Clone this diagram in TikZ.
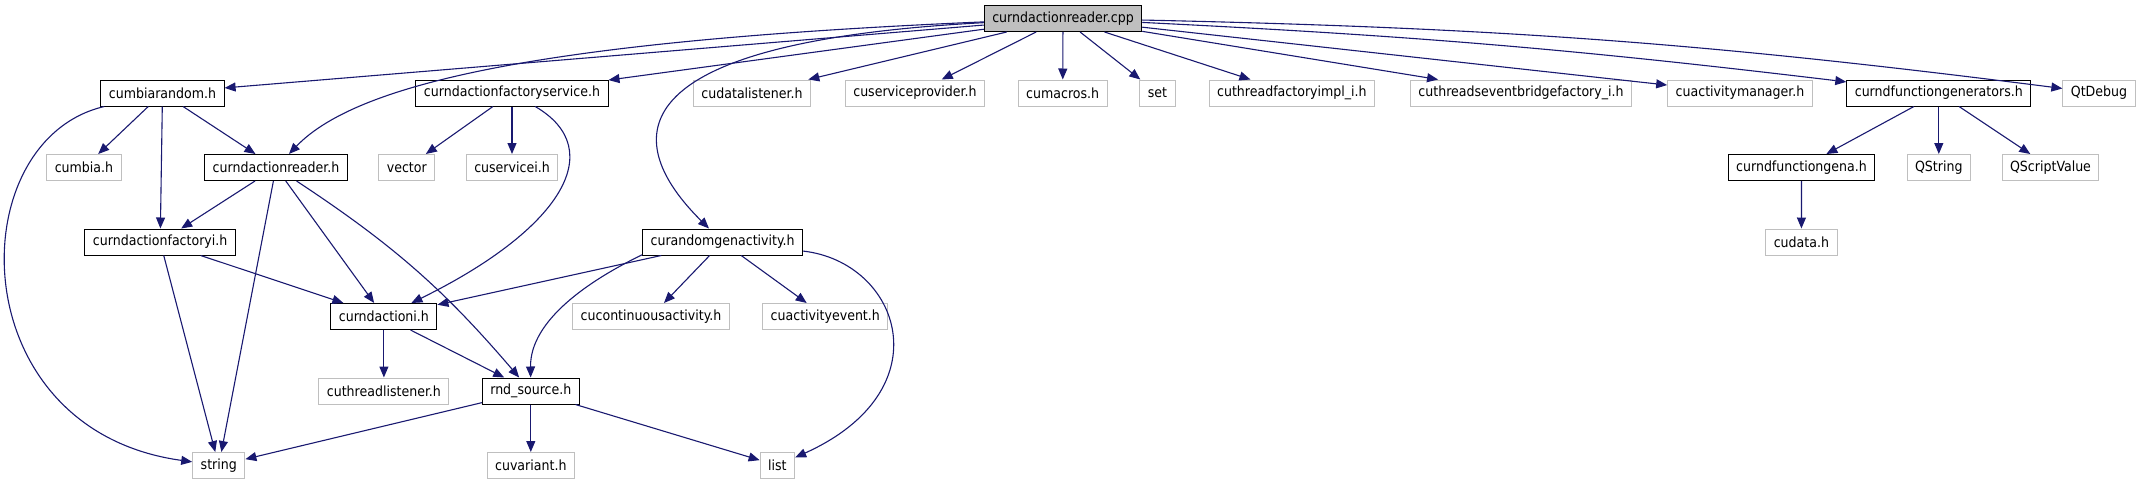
\documentclass[tikz,border=0pt]{standalone}
\usepackage{fontspec}
\setmainfont{DejaVu Sans Condensed}
\usetikzlibrary{arrows.meta}
\definecolor{edgeblue}{HTML}{191970}
\definecolor{boxgray}{HTML}{BFBFBF}

\begin{document}
\begin{tikzpicture}[x=1pt, y=-1pt,
  every node/.style={rectangle, draw, fill=white, line width=1pt, minimum height=26pt,
    inner xsep=8pt, inner ysep=0pt, font=\fontsize{14}{16}\selectfont},
  sys/.style={draw=boxgray},
  root/.style={fill=boxgray},
  dep/.style={-{Triangle[length=11pt, width=9pt]}, draw=edgeblue, line width=1.1pt}]
  \useasboundingbox (0,0) rectangle (2144,485);

  \node[root] (cpp) at (1063,18.5) {curndactionreader.cpp};

  \node (cbr) at (162.5,93) {cumbiarandom.h};
  \node (cfs) at (512,93) {curndactionfactoryservice.h};
  \node[sys] (cdl) at (752,93) {cudatalistener.h};
  \node[sys] (csp) at (914.9,93) {cuserviceprovider.h};
  \node[sys] (cma) at (1062.7,93) {cumacros.h};
  \node[sys] (set) at (1157.4,93) {set};
  \node[sys] (ctf) at (1291.9,93) {cuthreadfactoryimpl\_i.h};
  \node[sys] (ctb) at (1521,93) {cuthreadseventbridgefactory\_i.h};
  \node[sys] (cam) at (1740,93) {cuactivitymanager.h};
  \node (cfg) at (1938.8,93) {curndfunctiongenerators.h};
  \node[sys] (qtd) at (2099,93) {QtDebug};

  \node[sys] (cmb) at (84,167.5) {cumbia.h};
  \node (crh) at (276,167.5) {curndactionreader.h};
  \node[sys] (vec) at (406.8,167.5) {vector};
  \node[sys] (csi) at (512,167.5) {cuservicei.h};
  \node (cfa) at (1801.5,167.5) {curndfunctiongena.h};
  \node[sys] (qst) at (1938.8,167.5) {QString};
  \node[sys] (qsv) at (2050.5,167.5) {QScriptValue};

  \node (cfi) at (160.2,242) {curndactionfactoryi.h};
  \node (crg) at (722.6,242) {curandomgenactivity.h};
  \node[sys] (cdt) at (1801.4,242) {cudata.h};

  \node (cai) at (383.9,316.5) {curndactioni.h};
  \node[sys] (cca) at (651,316.5) {cucontinuousactivity.h};
  \node[sys] (cae) at (825.3,316.5) {cuactivityevent.h};

  \node[sys] (ctl) at (383.9,391) {cuthreadlistener.h};
  \node (rnd) at (530.8,391) {rnd\_source.h};

  \node[sys] (str) at (218.8,465.5) {string};
  \node[sys] (cva) at (530.8,465.5) {cuvariant.h};
  \node[sys] (lst) at (777.4,465.5) {list};

  % top level includes
  \draw[dep] (cpp) -- (cbr);
  \draw[dep] (cpp) .. controls (560,40) and (360,80) .. (crh);
  \draw[dep] (cpp) -- (cfs);
  \draw[dep] (cpp) .. controls (560,45) and (650,170) .. (crg);
  \draw[dep] (cpp) -- (cdl);
  \draw[dep] (cpp) -- (csp);
  \draw[dep] (cpp) -- (cma);
  \draw[dep] (cpp) -- (set);
  \draw[dep] (cpp) -- (ctf);
  \draw[dep] (cpp) -- (ctb);
  \draw[dep] (cpp) -- (cam);
  \draw[dep] (cpp) to[bend left=2] (cfg);
  \draw[dep] (cpp) to[bend left=3] (qtd);

  \draw[dep] (cbr) .. controls (-40,140) and (-40,430) .. (str);
  \draw[dep] (cbr) -- (cmb);
  \draw[dep] (cbr) -- (cfi);
  \draw[dep] (cbr) -- (crh);

  \draw[dep] (cfs) -- (vec);
  \draw[dep] (cfs) -- (csi);
  \draw[dep] (cfs) .. controls (610,150) and (560,230) .. (cai);

  \draw[dep] (crh) -- (cfi);
  \draw[dep] (crh) -- (str);
  \draw[dep] (crh) -- (cai);
  \draw[dep] (crh) to[bend left=8] (rnd);

  \draw[dep] (cfi) -- (str);
  \draw[dep] (cfi) -- (cai);

  \draw[dep] (crg) -- (cai);
  \draw[dep] (crg.189) .. controls (590,280) and (530,320) .. (rnd);
  \draw[dep] (crg) -- (cca);
  \draw[dep] (crg) -- (cae);
  \draw[dep] (crg) .. controls (900,262) and (945,390) .. (lst);

  \draw[dep] (cai) -- (ctl);
  \draw[dep] (cai) -- (rnd);

  \draw[dep] (rnd) -- (str);
  \draw[dep] (rnd) -- (cva);
  \draw[dep] (rnd) -- (lst);

  \draw[dep] (cfg) -- (cfa);
  \draw[dep] (cfg) -- (qst);
  \draw[dep] (cfg) -- (qsv);
  \draw[dep] (cfa) -- (cdt);
\end{tikzpicture}
\end{document}
